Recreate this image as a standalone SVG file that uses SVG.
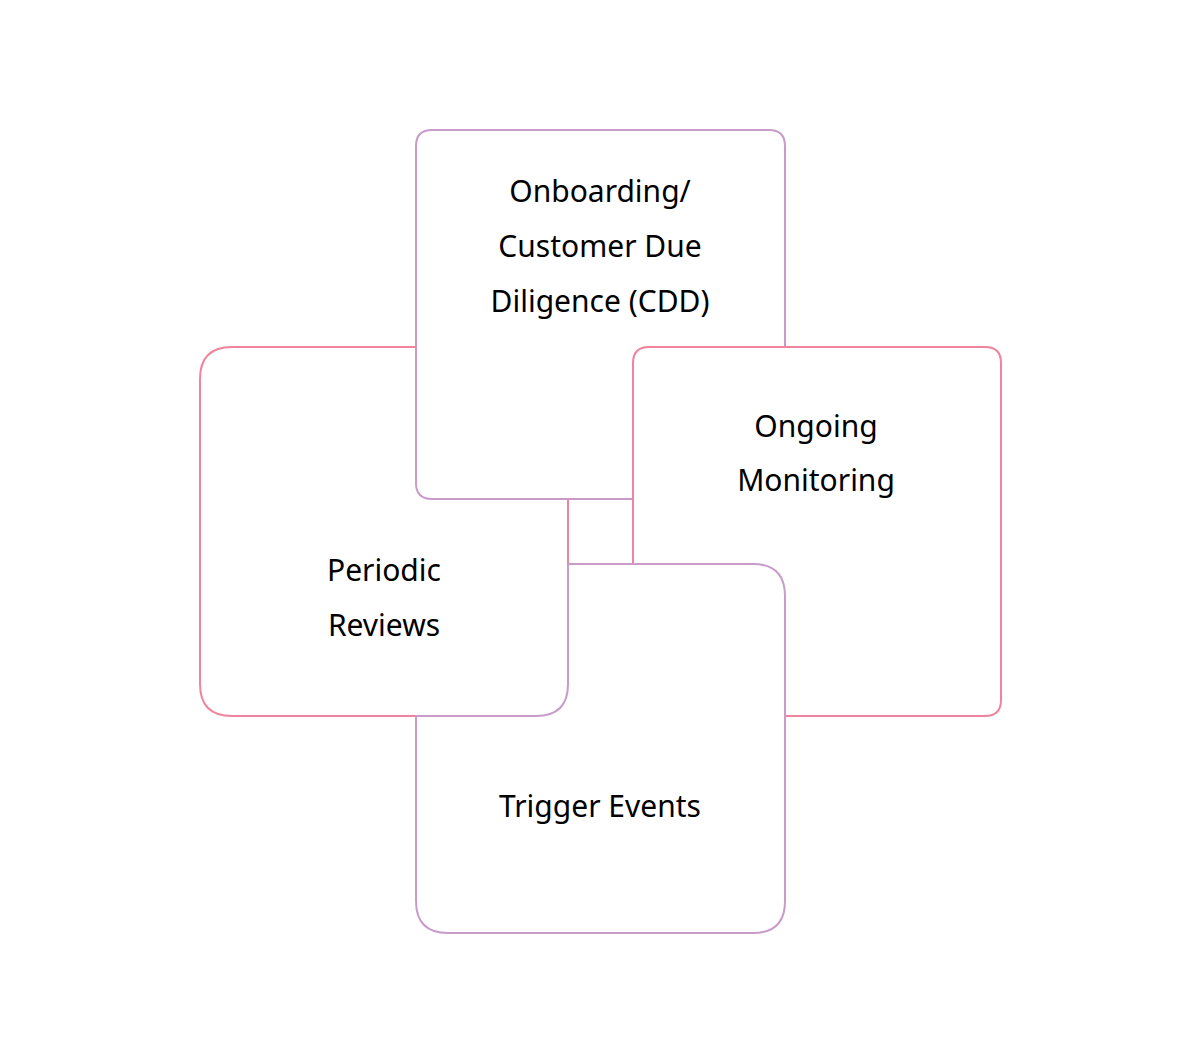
<svg xmlns="http://www.w3.org/2000/svg" width="1200" height="1062" viewBox="0 0 1200 1062">
<style>
.p{fill:none;stroke:#f0849c;stroke-width:2}
.v{fill:none;stroke:#c89bcb;stroke-width:2}
text{font-family:"Noto Sans","DejaVu Sans",sans-serif;font-size:30px;fill:#000;text-anchor:middle}
</style>
<rect width="1200" height="1062" fill="#fff"/>
<g id="connectors"></g>
<g id="onboarding">
<path class="v" d="M416,347 V146 Q416,130 432,130 H769 Q785,130 785,146 V347"/>
<path class="v" d="M416,347 V483 Q416,499 432,499 H633"/>
<text x="600" y="202">Onboarding/</text>
<text x="600" y="257">Customer Due</text>
<text x="600" y="312">Diligence (CDD)</text>
</g>
<g id="periodic">
<path class="p" d="M416,347 H232 Q200,347 200,379 V684 Q200,716 232,716 H416"/>
<path class="p" d="M568,499 V564"/>
<text x="384" y="581">Periodic</text>
<text x="384" y="636">Reviews</text>
</g>
<g id="ongoing">
<path class="p" d="M633,564 V363 Q633,347 649,347 H985 Q1001,347 1001,363 V700 Q1001,716 985,716 H785"/>
<text x="816" y="437">Ongoing</text>
<text x="816" y="491">Monitoring</text>
</g>
<g id="trigger">
<path class="v" d="M568,564 H753 Q785,564 785,596 V901 Q785,933 753,933 H448 Q416,933 416,901 V716"/>
<path class="v" d="M568,564 V684 Q568,716 536,716 H416"/>
<text x="600" y="817">Trigger Events</text>
</g>
</svg>
